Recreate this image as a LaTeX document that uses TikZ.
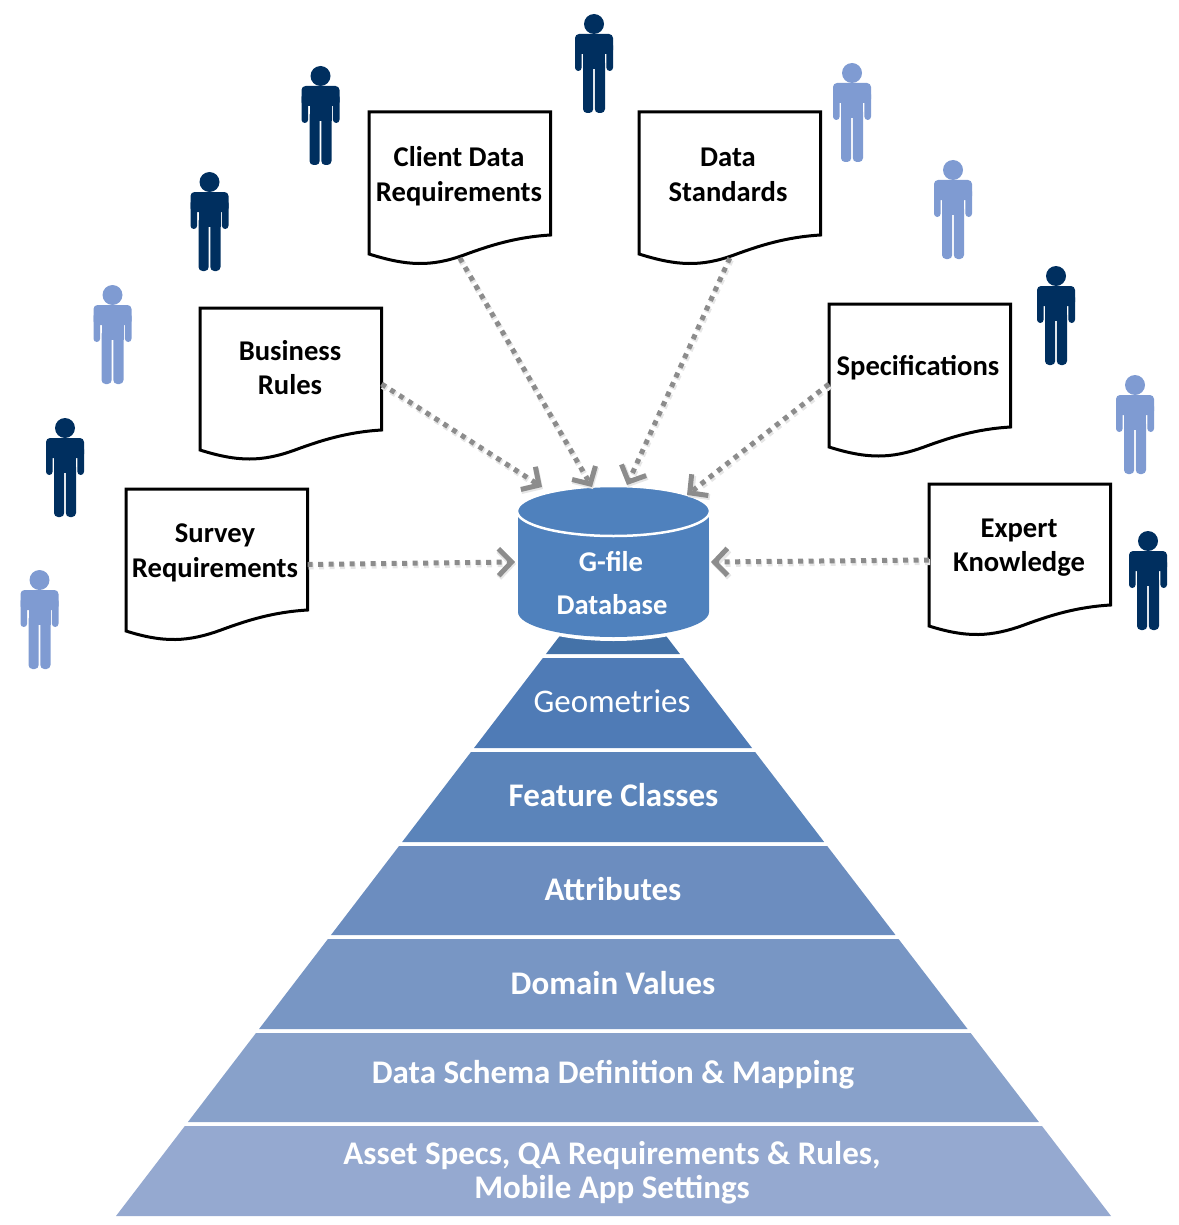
\documentclass[tikz,border=0pt]{standalone}
\usepackage{fontspec}
\setmainfont{Carlito}
\usetikzlibrary{arrows.meta}
\definecolor{darkp}{HTML}{002F5F}
\definecolor{lightp}{HTML}{7F9BD2}
\definecolor{dbblue}{HTML}{4F81BD}
\definecolor{arrowgray}{HTML}{8C8C8C}
\definecolor{shadowgray}{HTML}{E6E6E6}
\definecolor{bandA}{HTML}{4472A8}
\definecolor{bandB}{HTML}{4F7BB6}
\definecolor{bandC}{HTML}{5B84BA}
\definecolor{bandD}{HTML}{6C8DBF}
\definecolor{bandE}{HTML}{7896C4}
\definecolor{bandF}{HTML}{88A1CA}
\definecolor{bandG}{HTML}{95A9D0}
\tikzset{
  doclabel/.style={font=\fontsize{28.6}{34.5}\selectfont\bfseries,align=center,text=black,inner sep=0pt},
  docline/.style={draw=black,line width=3pt,fill=white,line join=miter},
  flow/.style={draw=arrowgray,line width=5pt,dash pattern=on 5pt off 5.5pt,
    -{Straight Barb[length=13pt,width=27pt,line width=5pt]}},
  flowshade/.style={draw=shadowgray,line width=6pt,dash pattern=on 5pt off 5.5pt,
    -{Straight Barb[length=13pt,width=27pt,line width=6pt]},transform canvas={xshift=1pt,yshift=-2pt}},
  bandtext/.style={font=\fontsize{33}{34.5}\selectfont\bfseries,align=center,text=white,inner sep=0pt},
  dbtext/.style={font=\fontsize{28.6}{30}\selectfont\bfseries,text=white,inner sep=0pt}
}
% document: name, left, top, left-bottom, right-bottom, box bottom
\newcommand{\docshape}[6]{%
  \path[docline] (#2,#3) -- (#2+181.6,#3) -- (#2+181.6,#5)
    .. controls (#2+148,#5+2) and (#2+122,#5+10) .. (#2+95,#5+20)
    .. controls (#2+62,#5+32) and (#2+38,#4+12) .. (#2,#4) -- cycle;
  \node[inner sep=0pt,outer sep=0pt,minimum width=181.6pt,minimum height={#6-#3},anchor=north west] (#1) at (#2,#3) {};
}
\newcommand{\personfig}[3]{%
  \begin{scope}[shift={(#1,#2)},fill=#3]
    \fill (0,10) circle (10);
    \fill[rounded corners=4pt] (-19,20) rectangle (19,40);
    \fill[rounded corners=3.3pt] (-19,28) rectangle (-12.4,57);
    \fill[rounded corners=3.3pt] (12.4,28) rectangle (19,57);
    \fill (-11,25) rectangle (11,55);
    \fill[rounded corners=4pt] (-11,45) rectangle (-0.8,99);
    \fill[rounded corners=4pt] (0.8,45) rectangle (11,99);
    \fill (-11,40) rectangle (11,50);
  \end{scope}
}
\newcommand{\band}[3]{% top y, bottom y, color
  \fill[#3] ({116+(1216-#1)*0.765},#1) -- ({1111-(1216-#1)*0.767},#1)
     -- ({1111-(1216-#2)*0.767},#2) -- ({116+(1216-#2)*0.765},#2) -- cycle;
}
\begin{document}
\begin{tikzpicture}[x=1pt,y=-1pt]
\useasboundingbox (0,0) rectangle (1178,1225);
% people
\personfig{594}{14}{darkp}
\personfig{320.5}{66}{darkp}
\personfig{209.5}{172}{darkp}
\personfig{65}{418}{darkp}
\personfig{1056}{266}{darkp}
\personfig{1148}{531}{darkp}
\personfig{852}{63}{lightp}
\personfig{953}{160}{lightp}
\personfig{112.5}{285}{lightp}
\personfig{39.5}{570}{lightp}
\personfig{1135}{375}{lightp}
% pyramid
\band{630}{654}{bandA}
\band{658}{748}{bandB}
\band{752}{842}{bandC}
\band{846}{935}{bandD}
\band{939}{1029}{bandE}
\band{1033}{1122}{bandF}
\band{1126}{1216}{bandG}
\node[bandtext,font=\fontsize{33}{34.5}\selectfont] (geom) at (612,701.5) {Geometries};
\node[bandtext] (feat) at (613.5,795.5) {Feature Classes};
\node[bandtext] (attr) at (613,889) {Attributes};
\node[bandtext] (domv) at (613,983) {Domain Values};
\node[bandtext] (schema) at (613,1075) {Data Schema Definition \& Mapping};
\node[bandtext] (asset) at (612,1172.5) {Asset Specs, QA Requirements \& Rules,\\Mobile App Settings};
% database
\fill[white] (518,600) -- (518,614) arc[start angle=180,end angle=0,x radius=95.5,y radius=27] -- (709,600) -- cycle;
\path[fill=dbblue] (518,511) -- (518,612) arc[start angle=180,end angle=0,x radius=95.5,y radius=25] -- (709,511) -- cycle;
\path[fill=dbblue,draw=white,line width=2.5pt] (613.5,511) ellipse[x radius=96.5,y radius=25];
\fill[white] (515,480) rectangle (517.5,540);
\fill[white] (709,480) rectangle (712,540);
\node[inner sep=0pt,outer sep=0pt,minimum width=191pt,minimum height=151pt,anchor=north west] (db) at (518,487) {};
\node[dbtext] (dbA) at (611,561.5) {G-file};
\node[dbtext] (dbB) at (612,604.5) {Database};
% documents
\docshape{client}{369}{112}{254}{235}{258}
\docshape{standards}{639}{112}{254}{235}{258}
\docshape{business}{200}{308}{450}{430}{460}
\docshape{spec}{829}{304}{447}{427}{464}
\docshape{survey}{126}{489}{631}{610}{640}
\docshape{expert}{929}{484}{626}{605}{636}
\node[doclabel] (clientT) at (459,176) {Client Data\\Requirements};
\node[doclabel] (standardsT) at (728,175) {Data\\Standards};
\node[doclabel] (businessT) at (290,367.5) {Business\\Rules};
\node[doclabel] (specT) at (918,368) {Specifications};
\node[doclabel] (surveyT) at (215,553) {Survey\\Requirements};
\node[doclabel] (expertT) at (1019,547.5) {Expert\\Knowledge};
% arrow ends on the database
\coordinate (inS) at (515,562);
\coordinate (inB) at (542,487);
\coordinate (inC) at (592,487);
\coordinate (inD) at (627,485);
\coordinate (inP) at (687,495);
\coordinate (inE) at (711,562);
\draw[flowshade] (survey.east) -- (inS);
\draw[flowshade] (business.east) -- (inB);
\draw[flowshade] (client.south) -- (inC);
\draw[flowshade] (standards.south) -- (inD);
\draw[flowshade] (spec.west) -- (inP);
\draw[flowshade] (expert.west) -- (inE);
\draw[flow] (survey.east) -- (inS);
\draw[flow] (business.east) -- (inB);
\draw[flow] (client.south) -- (inC);
\draw[flow] (standards.south) -- (inD);
\draw[flow] (spec.west) -- (inP);
\draw[flow] (expert.west) -- (inE);
\end{tikzpicture}
\end{document}
